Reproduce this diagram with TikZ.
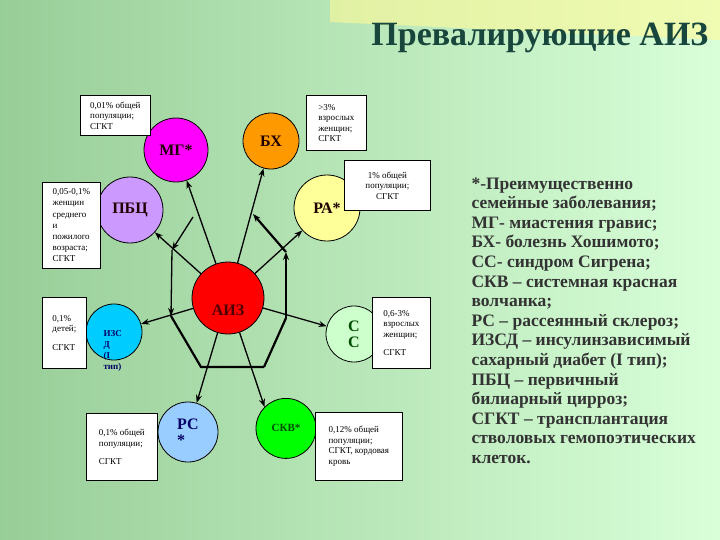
\documentclass[tikz,border=0pt]{standalone}
\usepackage{fontspec}
\setmainfont{Liberation Serif}
\usetikzlibrary{arrows.meta}
\begin{document}
\begin{tikzpicture}[x=1pt,y=-1pt,
  circ/.style={circle,draw=black,line width=0.8pt,inner sep=0pt,font=\bfseries\fontsize{16}{16}\selectfont,text=black!70!red!40!black},
  box/.style={draw=black,line width=0.8pt,fill=white,anchor=north west,align=left,inner sep=3pt,font=\fontsize{9}{10.5}\selectfont},
  ray/.style={-{Stealth[length=8pt,width=6pt]},line width=1.3pt},
  oct/.style={-{Stealth[length=8pt,width=6pt]},line width=2.2pt}]
\useasboundingbox (0,0) rectangle (720,540);
\shade[left color=green!35!gray!60!white, right color=green!15!white] (0,0) rectangle (720,540);
\fill[yellow!40!white,opacity=0.6] (330,0) -- (720,0) -- (720,40) -- (330,22) -- cycle;
\node[font=\bfseries\fontsize{34}{34}\selectfont,text={rgb,255:red,25;green,70;blue,60},anchor=east] (title) at (712,38) {Превалирующие АИЗ};
% circles
\node[circ,fill={rgb,255:red,255;green,0;blue,255},minimum size=64pt] (mg) at (176,150) {МГ*};
\node[circ,fill={rgb,255:red,255;green,153;blue,0},minimum size=56pt] (bx) at (271,141) {БХ};
\node[circ,fill={rgb,255:red,255;green,255;blue,153},minimum size=66pt] (ra) at (327,208) {РА*};
\node[circ,fill={rgb,255:red,204;green,153;blue,255},minimum size=66pt] (pbc) at (130,210) {ПБЦ};
\node[circ,fill=red,minimum size=72pt] (aiz) at (228,298) {};
\node[font=\bfseries\fontsize{16}{16}\selectfont,text=black!70!red] (aizl) at (228,310) {АИЗ};
\node[circ,fill={rgb,255:red,0;green,204;blue,255},minimum size=56pt] (izsd) at (114,332) {};
\node[font=\bfseries\fontsize{9}{11}\selectfont,align=left,text=black!60!blue,anchor=north west] (izsdl) at (100,327) {ИЗС\\Д\\(I\\тип)};
\node[circ,fill={rgb,255:red,204;green,255;blue,204},minimum size=56pt,align=center,text=black!70!green] (cc) at (354,334) {С\\С};
\node[circ,fill={rgb,255:red,153;green,204;blue,255},minimum size=60pt,align=left,text=black!60!blue] (pc) at (188,432) {РС\\*};
\node[circ,fill={rgb,255:red,0;green,255;blue,0},minimum size=60pt,font=\bfseries\fontsize{11}{11}\selectfont,text=black!70!green,anchor=north] (skv) at (286,398) {СКВ*};
% octagon vertices
\coordinate (v1) at (193,217);
\coordinate (v2) at (253,214);
\coordinate (v3) at (286,252);
\coordinate (v4) at (286,318);
\coordinate (v5) at (264,367);
\coordinate (v6) at (201,367);
\coordinate (v7) at (171,316);
\coordinate (v8) at (172,250);
% rays
\foreach \t in {mg,bx,ra,pbc,izsd,cc,pc}{\draw[ray] (aiz) -- (\t);}
\draw[ray] (aiz) -- (skv.north west);
% octagon
\draw[ray] (v1) -- (v8);
\draw[ray] (v8) -- (v7);
\draw[oct,-] (v7) -- (v6) -- (v5);
\draw[oct,-] (v5) -- (v4);
\draw[oct] (v4) -- (v3);
\draw[oct] (v3) -- (v2);
% boxes
\node[box,minimum width=70pt,minimum height=40pt] (b1) at (80,95) {0,01\% общей\\ популяции;\\СГКТ};
\node[box,minimum width=60pt,minimum height=55pt] (b2) at (306,95) {>3\%\\взрослых\\женщин;\\СГКТ};
\node[box,align=center,minimum width=86pt,minimum height=50pt] (b3) at (344,160) {1\% общей\\популяции;\\СГКТ};
\node[box,minimum width=58pt,minimum height=86pt,font=\fontsize{9}{11.2}\selectfont] (b4) at (42,182) {0,05-0,1\%\\женщин\\среднего\\и\\пожилого\\возраста;\\СГКТ};
\node[box,minimum width=44pt,minimum height=71pt] (b5) at (42,297) {0,1\%\\детей;\\[8pt]СГКТ};
\node[box,minimum width=58pt,minimum height=71pt] (b6) at (372,297) {0,6-3\%\\взрослых\\женщин;\\[8pt]СГКТ};
\node[box,minimum width=71pt,minimum height=67pt] (b7) at (86,413) {0,1\% общей\\популяции;\\[8pt]СГКТ};
\node[box,minimum width=87pt,minimum height=68pt] (b8) at (315,412) {0,12\% общей\\популяции;\\СГКТ, кордовая\\кровь};
% legend
\node[anchor=north west,align=left,font=\bfseries\fontsize{17.5}{19.6}\selectfont,text=black!80] (leg) at (468,174) {*-Преимущественно\\семейные заболевания;\\МГ- миастения гравис;\\БХ- болезнь Хошимото;\\СС- синдром Сигрена;\\СКВ – системная красная\\волчанка;\\ РС – рассеянный склероз;\\ИЗСД – инсулинзависимый\\сахарный диабет (I тип);\\ПБЦ – первичный\\билиарный цирроз;\\СГКТ – трансплантация\\стволовых гемопоэтических\\клеток.};
\end{tikzpicture}
\end{document}
